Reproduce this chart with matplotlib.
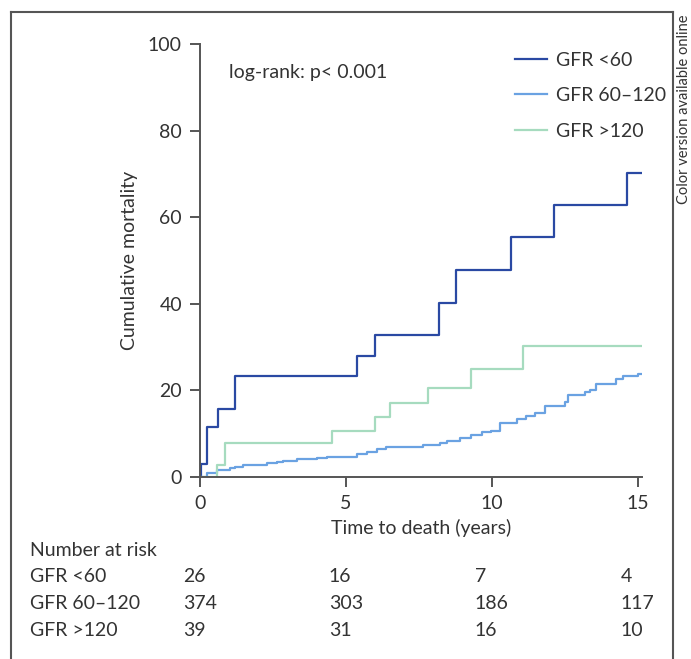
import matplotlib
matplotlib.use("Agg")
import matplotlib.pyplot as plt
from matplotlib.lines import Line2D

plt.rcParams['font.family'] = ['Lato', 'DejaVu Sans']

# step curves (time in years, cumulative mortality in %)
t_low = [0, 0.05, 0.25, 0.6, 1.21, 5.39, 5.99, 8.18, 8.79, 10.67, 12.12, 14.62, 15.15]
m_low = [0, 3.0, 11.6, 15.6, 23.3, 27.9, 32.9, 40.3, 47.8, 55.4, 62.8, 70.3, 70.3]

t_mid = [0, 0.23, 0.57, 1.03, 1.2, 1.48, 2.28, 2.63, 2.85, 3.31, 4.0, 4.34, 5.37, 5.71,
         6.05, 6.39, 7.65, 8.22, 8.45, 8.9, 9.3, 9.65, 9.99, 10.27, 10.87, 11.19, 11.47,
         11.82, 12.5, 12.61, 13.18, 13.36, 13.58, 14.27, 14.5, 15.0, 15.15]
m_mid = [0, 1.0, 1.6, 2.0, 2.4, 2.8, 3.2, 3.5, 3.8, 4.1, 4.4, 4.7, 5.2, 5.8,
         6.5, 7.0, 7.3, 7.8, 8.4, 8.9, 9.7, 10.3, 10.6, 12.5, 13.5, 14.2, 14.8,
         16.4, 17.4, 19.0, 19.6, 20.2, 21.5, 22.6, 23.4, 23.9, 23.9]

t_high = [0, 0.57, 0.85, 4.51, 5.99, 6.5, 7.82, 9.3, 11.07, 15.15]
m_high = [0, 2.7, 7.8, 10.7, 13.8, 17.0, 20.5, 24.9, 30.3, 30.3]

groups = ["GFR <60", "GFR 60\u2013120", "GFR >120"]
colors = ["#2a49a3", "#6aa2e2", "#a6dbbf"]

risk_times = [0, 5, 10, 15]
risk_low = [26, 16, 7, 4]
risk_mid = [374, 303, 186, 117]
risk_high = [39, 31, 16, 10]

W, H = 691, 659
fig = plt.figure(figsize=(W / 100, H / 100), dpi=100)
ax = fig.add_axes([200 / W, 1 - 477 / H, 442 / W, 433 / H])

for t, m, c, lab in zip([t_low, t_mid, t_high], [m_low, m_mid, m_high], colors, groups):
    ax.step(t, m, where='post', color=c, lw=1.6, label=lab)

ax.set_xlim(0, 15.15)
ax.set_ylim(0, 100)
ax.set_xticks([0, 5, 10, 15])
ax.set_yticks([0, 20, 40, 60, 80, 100])
for s in ['top', 'right']:
    ax.spines[s].set_visible(False)
for s in ['left', 'bottom']:
    ax.spines[s].set_color('#555555')
    ax.spines[s].set_linewidth(1.4)
ax.tick_params(colors='#555555', width=1.4, length=7, labelsize=14, labelcolor='#333333', pad=6)
ax.set_xlabel("Time to death (years)", fontsize=14, color='#333333', labelpad=5)
ax.set_ylabel("Cumulative mortality", fontsize=14, color='#333333', labelpad=7)

ax.text(0.065, 0.935, "log-rank: p< 0.001", transform=ax.transAxes, fontsize=14,
        color='#333333', va='center')

leg = ax.legend(loc='upper left', bbox_to_anchor=(307 / 442, 1.0), frameon=False,
                fontsize=14, handlelength=1.65, handletextpad=0.45, labelspacing=0.95,
                borderaxespad=0)
for txt in leg.get_texts():
    txt.set_color('#333333')

# number at risk table
fig.text(30 / W, 1 - 550 / H, "Number at risk", fontsize=14, color='#333333', va='center')
for i, (lab, vals) in enumerate(zip(groups, [risk_low, risk_mid, risk_high])):
    y = 1 - (577 + 26.5 * i) / H
    fig.text(30 / W, y, lab, fontsize=14, color='#333333', va='center')
    for tt, v in zip(risk_times, vals):
        xp = ax.transData.transform((tt, 0))[0] - 17
        fig.text(xp / W, y, str(v), fontsize=14, color='#333333', va='center')

# outer frame
fc = '#555555'
fig.add_artist(Line2D([11 / W, 11 / W], [0, 1 - 12 / H], color=fc, lw=1.5))
fig.add_artist(Line2D([11 / W, 673 / W], [1 - 12 / H, 1 - 12 / H], color=fc, lw=1.5))
fig.add_artist(Line2D([673 / W, 673 / W], [0, 1 - 12 / H], color=fc, lw=1.5))
fig.text(684 / W, 1 - 15 / H, "Color version available online", rotation=90,
         fontsize=10.5, color='#333333', ha='center', va='top')

fig.savefig("out.png", dpi=100)
